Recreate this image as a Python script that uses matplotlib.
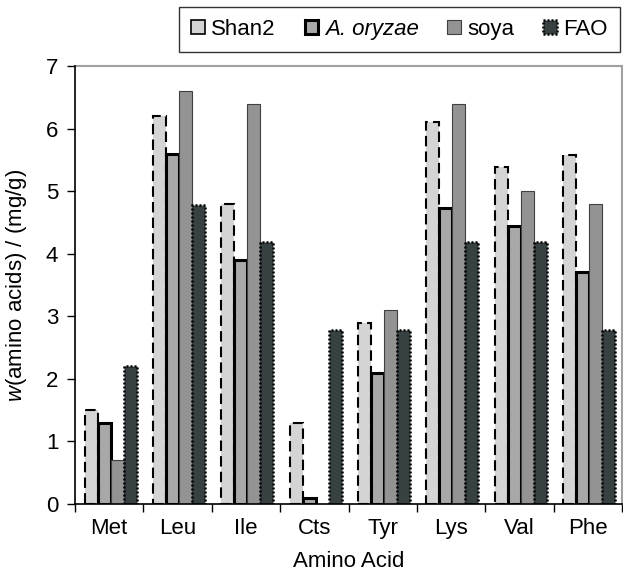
import numpy as np
import matplotlib
matplotlib.use("Agg")
import matplotlib.pyplot as plt

# data
amino_acids = ["Met", "Leu", "Ile", "Cts", "Tyr", "Lys", "Val", "Phe"]
shan2 = [1.5, 6.2, 4.8, 1.3, 2.9, 6.1, 5.38, 5.58]
a_oryzae = [1.3, 5.6, 3.9, 0.1, 2.1, 4.73, 4.45, 3.7]
soya = [0.7, 6.6, 6.4, 0.0, 3.1, 6.4, 5.0, 4.8]
fao = [2.2, 4.78, 4.18, 2.78, 2.78, 4.18, 4.18, 2.78]
series_names = ["Shan2", "A. oryzae", "soya", "FAO"]

plt.rcParams['font.family'] = ['Liberation Sans', 'DejaVu Sans']
plt.rcParams['mathtext.fontset'] = 'custom'
plt.rcParams['mathtext.rm'] = 'Liberation Sans'
plt.rcParams['mathtext.it'] = 'Liberation Sans:italic'

FS = 16


def main():
    fig = plt.figure(figsize=(6.23, 5.76), dpi=100)
    ax = fig.add_axes([75/623, 72/576, 547/623, 438/576])

    x = np.arange(len(amino_acids))
    w = 0.19
    styles = [
        dict(facecolor='#d4d4d4', edgecolor='black', linewidth=1.5, linestyle=(0, (5, 2.5))),
        dict(facecolor='#a8a8a8', edgecolor='black', linewidth=2.2, linestyle='-'),
        dict(facecolor='#939393', edgecolor='#404040', linewidth=0.8, linestyle='-'),
        dict(facecolor='#384142', edgecolor='black', linewidth=1.8, linestyle=(0, (0.8, 0.8))),
    ]
    all_vals = [shan2, a_oryzae, soya, fao]
    for j, (vals, st, name) in enumerate(zip(all_vals, styles, series_names)):
        ax.bar(x + (j - 1.5) * w + 0.02, vals, width=w, label=name, zorder=3, **st)

    ax.set_xlim(-0.5, len(amino_acids) - 0.5)
    ax.set_ylim(0, 7)
    ax.set_yticks(range(0, 8))
    ax.set_xticks(np.arange(-0.5, len(amino_acids)), labels=[])
    ax.set_xticks(x, labels=amino_acids, minor=True)
    ax.tick_params(axis='x', which='minor', length=0, labelsize=FS, pad=10)
    ax.tick_params(axis='x', which='major', length=6, width=1, direction='out')
    ax.tick_params(axis='y', length=6, width=1, direction='out', labelsize=FS, pad=6)

    for side in ['top', 'right']:
        ax.spines[side].set_color('#a0a0a0')
        ax.spines[side].set_linewidth(1.5)
    for side in ['left', 'bottom']:
        ax.spines[side].set_linewidth(1.2)
        ax.spines[side].set_zorder(4)

    ax.set_xlabel("Amino Acid", fontsize=FS, labelpad=9)
    ax.set_ylabel("$w$(amino acids) / (mg/g)", fontsize=FS, labelpad=12)

    leg = fig.legend(loc='upper right', bbox_to_anchor=(620/623, 1 - 7/576),
                     ncol=4, fontsize=FS, frameon=True, fancybox=False,
                     handlelength=0.6, handleheight=0.6, handletextpad=0.3,
                     columnspacing=1.3, borderpad=0.55, borderaxespad=0)
    leg.get_frame().set_edgecolor('black')
    leg.get_frame().set_linewidth(1.0)
    leg.get_texts()[1].set_fontstyle('italic')
    leg.legend_handles[0].set_linestyle('-')
    leg.legend_handles[0].set_linewidth(1.2)

    fig.savefig("out.png", dpi=100)


if __name__ == '__main__':
    main()
